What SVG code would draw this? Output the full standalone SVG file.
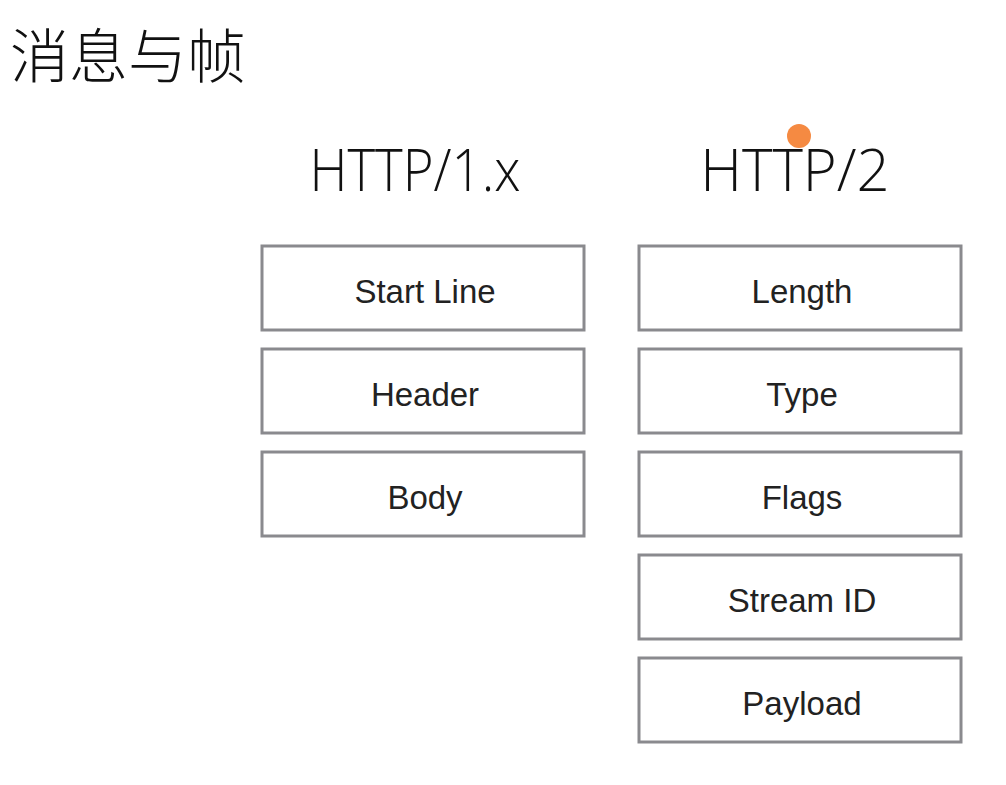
<svg xmlns="http://www.w3.org/2000/svg" width="1006" height="785" viewBox="0 0 1006 785">
<style>
.box{fill:#fff;stroke:#8a8a8e;stroke-width:3}
.lbl{font-family:"Liberation Sans",Arial,sans-serif;font-size:33px;fill:#222;text-anchor:middle;dominant-baseline:central}
.hdr{font-family:"Open Sans","Liberation Sans",sans-serif;font-weight:300;font-size:58px;fill:#111;text-anchor:middle}
.title{font-family:"Noto Sans CJK SC",sans-serif;font-weight:300;font-size:59px;fill:#111}
</style>
<rect width="1006" height="785" fill="#fff"/>
<text class="title" x="10" y="78">消息与帧</text>
<text class="hdr" x="415" y="191" textLength="211" lengthAdjust="spacingAndGlyphs">HTTP/1.x</text>
<text class="hdr" x="795" y="191">HTTP/2</text>
<circle cx="799" cy="136" r="12" fill="#f58a42"/>
<g id="start-line"><rect class="box" x="262" y="246" width="322" height="84"/><text class="lbl" x="425" y="291">Start Line</text></g>
<g id="header"><rect class="box" x="262" y="349" width="322" height="84"/><text class="lbl" x="425" y="394">Header</text></g>
<g id="body"><rect class="box" x="262" y="452" width="322" height="84"/><text class="lbl" x="425" y="497">Body</text></g>
<g id="length"><rect class="box" x="639" y="246" width="322" height="84"/><text class="lbl" x="802" y="291">Length</text></g>
<g id="type"><rect class="box" x="639" y="349" width="322" height="84"/><text class="lbl" x="802" y="394">Type</text></g>
<g id="flags"><rect class="box" x="639" y="452" width="322" height="84"/><text class="lbl" x="802" y="497">Flags</text></g>
<g id="stream-id"><rect class="box" x="639" y="555" width="322" height="84"/><text class="lbl" x="802" y="600">Stream ID</text></g>
<g id="payload"><rect class="box" x="639" y="658" width="322" height="84"/><text class="lbl" x="802" y="703">Payload</text></g>
<g id="connectors"></g>
</svg>
